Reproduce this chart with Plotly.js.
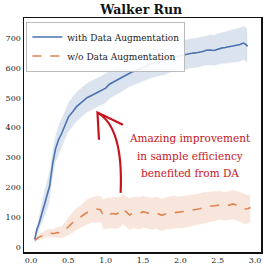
<!DOCTYPE html>
<html><head><meta charset="utf-8">
<script src="https://cdn.plot.ly/plotly-3.0.1.min.js"></script>
<style>html,body{margin:0;padding:0;background:#fff}#c{width:264px;height:274px}</style>
</head><body><div id="c"></div>
<script>
const blueX = [0.05,0.08,0.11,0.15,0.2,0.25,0.29,0.33,0.37,0.41,0.45,0.5,0.55,0.61,0.68,0.75,0.83,0.92,1.0,1.05,1.1,1.15,1.2,1.25,1.3,1.35,1.4,1.45,1.5,1.55,1.6,1.65,1.7,1.75,1.8,1.85,1.9,1.95,2.0,2.05,2.1,2.15,2.2,2.25,2.3,2.35,2.4,2.45,2.5,2.55,2.6,2.65,2.7,2.75,2.8,2.84,2.87,2.9];
const blueY = [25,60,80,120,160,205,280,330,360,380,405,435,450,470,485,500,510,522,532,545,552,558,565,571,580,586,590,596,600,607,612,617,620,622,625,632,635,636,640,642,645,649,650,652,655,659,660,658,663,666,668,670,672,675,678,683,680,672];
const blueHi = [35,80,110,160,210,260,330,380,410,430,455,485,500,520,535,550,560,572,582,594,600,606,612,620,627,633,637,644,648,655,660,664,668,670,674,681,684,686,690,692,695,700,700,703,705,710,712,710,716,719,722,725,728,732,736,740,738,730];
const blueLo = [15,40,55,80,110,150,230,280,310,330,355,385,400,420,435,450,460,472,482,496,503,510,518,524,533,539,543,548,552,559,564,568,572,574,576,583,586,586,590,592,595,598,600,601,605,608,608,606,610,613,614,615,616,618,620,626,622,614];

const orangeX = [0.05,0.1,0.15,0.2,0.25,0.3,0.35,0.41,0.47,0.55,0.6,0.66,0.71,0.76,0.82,0.88,0.93,0.97,1.02,1.08,1.14,1.2,1.22,1.26,1.32,1.38,1.45,1.5,1.56,1.62,1.68,1.75,1.82,1.9,1.97,2.03,2.1,2.17,2.26,2.33,2.39,2.46,2.53,2.6,2.66,2.7,2.76,2.82,2.86,2.9,2.94];
const orangeY = [22,32,37,45,47,44,48,47,60,80,92,100,108,117,122,127,125,104,108,112,110,118,128,121,107,115,112,118,114,110,114,106,112,114,116,117,120,124,128,134,137,138,141,138,140,144,140,132,127,128,132];
const orangeHi = [30,42,50,58,62,60,68,70,90,115,130,140,150,162,168,172,170,160,165,166,168,170,180,172,164,170,168,172,168,165,170,162,168,172,170,172,175,178,180,185,185,187,188,185,188,192,188,182,178,175,178];
const orangeLo = [14,22,26,32,32,30,30,28,35,45,55,62,68,75,80,82,82,58,60,62,60,65,75,70,56,62,58,64,60,57,60,52,58,60,62,62,66,70,74,80,84,86,90,88,90,92,88,82,76,78,82];

const seriesNames = ["with Data Augmentation", "w/o Data Augmentation"];
const titleText = "Walker Run";
const noteLines = ["Amazing improvement", "in sample efficiency", "benefited from DA"];
const xTicks = [0.0,0.5,1.0,1.5,2.0,2.5,3.0];
const xTickText = ["0.0","0.5","1.0","1.5","2.0","2.5","3.0"];
const yTicks = [0,100,200,300,400,500,600,700];

const FONT = "DejaVu Serif";
const BLUE = "#4c72b0", ORANGE = "#dd8452", RED = "#c8141e";

function band(x, hi, lo, color) {
  return {x: x.concat(x.slice().reverse()), y: hi.concat(lo.slice().reverse()),
    fill: "toself", fillcolor: color, line: {width: 0.8, color: "rgba(255,255,255,0.8)"},
    mode: "lines", hoverinfo: "skip", showlegend: false};
}

const data = [
  band(blueX, blueHi, blueLo, "rgba(76,114,176,0.2)"),
  band(orangeX, orangeHi, orangeLo, "rgba(221,132,82,0.2)"),
  {x: blueX, y: blueY, mode: "lines", name: seriesNames[0], line: {color: BLUE, width: 1.6}},
  {x: orangeX, y: orangeY, mode: "lines", name: seriesNames[1], line: {color: ORANGE, width: 1.6, dash: "dash"}}
];

const noteY = [366, 306, 249];
const annotations = noteLines.map((t, i) => ({x: 2.13, y: noteY[i], xref: "x", yref: "y", text: t, showarrow: false,
  font: {family: FONT, size: 10.5, color: RED}, align: "center", xanchor: "center", yanchor: "middle"}));

const layout = {
  width: 264, height: 274,
  margin: {l: 24, r: 3, t: 18, b: 22},
  paper_bgcolor: "#fff", plot_bgcolor: "#fff",
  font: {family: FONT, size: 8, color: "#222"},
  title: {text: "<b>" + titleText + "</b>", font: {family: FONT, size: 12.5, color: "#111"},
    x: 0.535, xanchor: "center", y: 0.966, yanchor: "middle", yref: "container"},
  xaxis: {range: [-0.094, 3.08], tickvals: xTicks, ticktext: xTickText, showgrid: false, zeroline: false,
    showline: true, mirror: true, linecolor: "#111", linewidth: 1.5, ticks: "", tickfont: {size: 8, family: FONT}},
  yaxis: {range: [-17, 767], tickvals: yTicks, showgrid: false, zeroline: false,
    showline: true, mirror: true, linecolor: "#111", linewidth: 1.5, ticks: "", tickfont: {size: 8, family: FONT}},
  showlegend: true,
  legend: {x: 0.01, y: 0.985, xanchor: "left", yanchor: "top", bgcolor: "rgba(255,255,255,0.9)",
    bordercolor: "#bbb", borderwidth: 1, font: {size: 9, family: FONT, color: "#222"},
    tracegroupgap: 0, itemwidth: 30},
  annotations: annotations,
  shapes: [
    {type: "path", xref: "x", yref: "y", path: "M 1.20 181 Q 1.24 400 0.89 450", line: {color: RED, width: 2.2}},
    {type: "path", xref: "x", yref: "y", path: "M 0.91 359 L 0.89 450 L 1.23 409", line: {color: RED, width: 2.2}}
  ]
};

Plotly.newPlot("c", data, layout, {displayModeBar: false, staticPlot: true});
</script></body></html>
